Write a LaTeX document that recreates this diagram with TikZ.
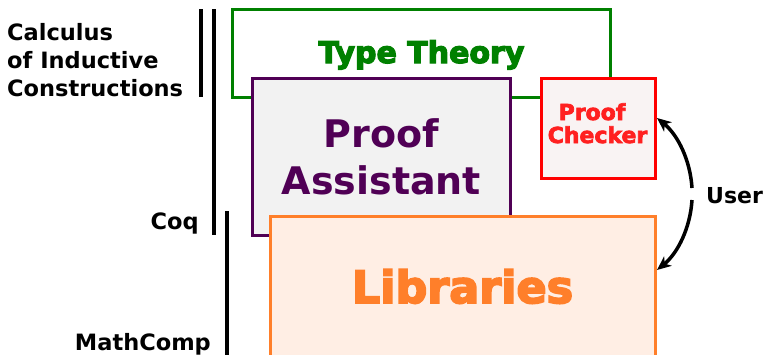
\documentclass[tikz,border=0pt]{standalone}
\usepackage{fontspec}
\setmainfont{DejaVu Sans}
\newfontfamily\strokefont[FakeBold=4]{DejaVu Sans Bold}
\newfontfamily\strokefontlight[FakeBold=3]{DejaVu Sans Bold}
\usetikzlibrary{arrows.meta}
\definecolor{ttgreen}{HTML}{008000}
\definecolor{papurple}{HTML}{500055}
\definecolor{pafill}{HTML}{F2F2F2}
\definecolor{pcred}{HTML}{FF0000}
\definecolor{pctext}{HTML}{FF2020}
\definecolor{pcfill}{HTML}{F9F3F3}
\definecolor{liborange}{HTML}{FF7F2A}
\definecolor{libfill}{HTML}{FFEEE4}
\tikzset{
  layerbox/.style={line width=3pt},
  bar/.style={line width=3.5pt},
  lbl/.style={inner sep=0pt, font=\bfseries\fontsize{22.5}{28}\selectfont, align=left},
  userline/.style={line width=3.5pt, arrows={-Stealth[length=14pt, width=12pt, inset=4pt]}}
}
\begin{document}
\begin{tikzpicture}[x=1pt,y=-1pt]
\useasboundingbox (0,0) rectangle (766,354);
% layers
\draw[layerbox, draw=ttgreen] (232,9) rectangle (610,97);
\node[inner sep=0pt, anchor=base, text=ttgreen, font=\strokefont\fontsize{30}{36}\selectfont] (tt) at (421.5,63) {Type Theory};
\draw[layerbox, draw=papurple, fill=pafill] (252,78) rectangle (510,235);
\node[inner sep=0pt, anchor=base, text=papurple, align=center, font=\bfseries\fontsize{38}{47}\selectfont] (pa) at (381.5,194) {Proof\\Assistant};
\draw[layerbox, draw=pcred, fill=pcfill] (541,78) rectangle (655,178);
\node[inner sep=0pt, anchor=base, text=pctext, font=\strokefontlight\fontsize{22}{23}\selectfont] (pcp) at (592,120) {Proof};
\node[inner sep=0pt, anchor=base, text=pctext, font=\strokefontlight\fontsize{22}{23}\selectfont] (pcc) at (597.5,143) {Checker};
\draw[layerbox, draw=liborange, fill=libfill] (270,216) rectangle (655,364);
\node[inner sep=0pt, anchor=base, text=liborange, font=\strokefont\fontsize{44.5}{50}\selectfont] (lib) at (462.5,303) {Libraries};
% anchors on box edges
\coordinate (pcE) at (657,118);
\coordinate (libE) at (657,270);
% side bars
\coordinate (b1t) at (201,9);   \coordinate (b1b) at (201,97);
\coordinate (b2t) at (214,9);   \coordinate (b2b) at (214,235);
\coordinate (b3t) at (227,211); \coordinate (b3b) at (227,360);
\draw[bar] (b1t) -- (b1b);
\draw[bar] (b2t) -- (b2b);
\draw[bar] (b3t) -- (b3b);
% labels
\node[lbl, anchor=base west] (cic) at (7,96.5) {Calculus\\of Inductive\\Constructions};
\node[lbl, anchor=base east] (coq) at (199,229) {Coq};
\node[lbl, anchor=base east] (mc) at (211,350) {MathComp};
\node[lbl, anchor=base west, font=\bfseries\fontsize{22}{26}\selectfont] (user) at (706,203) {User};
% user arrows
\coordinate (ua) at (692,188);
\coordinate (ub) at (692,200);
\draw[userline] (ua) .. controls (690.3,160.7) and (678.2,135.3) .. (pcE);
\draw[userline] (ub) .. controls (690.3,227.3) and (678.2,252.7) .. (libE);
\end{tikzpicture}
\end{document}
